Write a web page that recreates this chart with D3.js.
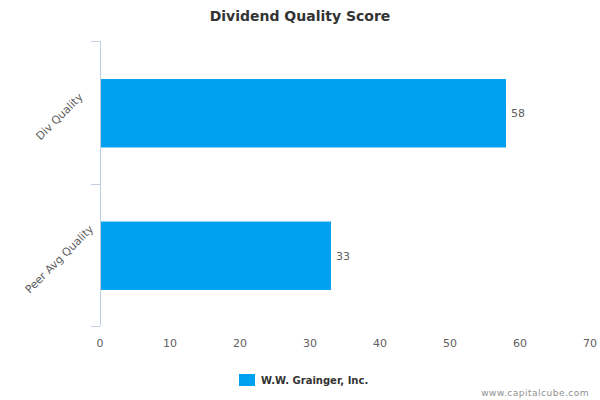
<!DOCTYPE html>
<html><head><meta charset="utf-8">
<script src="https://cdn.jsdelivr.net/npm/d3@7"></script>
<style>body{margin:0;background:#fff;} svg{display:block;font-family:"DejaVu Sans",sans-serif;}</style>
</head><body>
<script>
const categories = ["Div Quality", "Peer Avg Quality"];
const values = [58, 33];
const xTicks = [0, 10, 20, 30, 40, 50, 60, 70];
const seriesName = "W.W. Grainger, Inc.";
const title = "Dividend Quality Score";
const credit = "www.capitalcube.com";

const W = 600, H = 400;
const svg = d3.select("body").append("svg").attr("width", W).attr("height", H);
const plotLeft = 100, plotRight = 590, plotTop = 41, plotBottom = 326;
const x = d3.scaleLinear().domain([0, 70]).range([plotLeft, plotRight]);
const y = d3.scaleBand().domain(categories).range([plotTop + 1, plotBottom + 1]).paddingInner(0.52).paddingOuter(0.26);
const yb = d3.scaleBand().domain(categories).range([plotTop, plotBottom]);

svg.append("text").attr("x", 300).attr("y", 21).attr("text-anchor", "middle")
  .attr("font-size", 14).attr("font-weight", "bold").attr("fill", "#333").text(title);

// x tick labels
svg.append("g").selectAll("text").data(xTicks).join("text")
  .attr("x", d => x(d)).attr("y", 347).attr("text-anchor", "middle")
  .attr("font-size", 11).attr("fill", "#606060").text(d => d);

// y axis line and ticks
svg.append("line").attr("x1", plotLeft + 0.5).attr("x2", plotLeft + 0.5).attr("y1", plotTop).attr("y2", plotBottom)
  .attr("stroke", "#C0D0E0").attr("stroke-width", 1);
const tickYs = categories.map(c => yb(c)).concat([plotBottom]);
svg.append("g").selectAll("line").data(tickYs).join("line")
  .attr("x1", plotLeft - 9).attr("x2", plotLeft).attr("y1", d => Math.round(d) + 0.5).attr("y2", d => Math.round(d) + 0.5)
  .attr("stroke", "#C0D0E0").attr("stroke-width", 1);

// category labels
svg.append("g").selectAll("text").data(categories).join("text")
  .attr("transform", d => `translate(62,${yb(d) + yb.bandwidth() / 2 + 7}) rotate(-45)`)
  .attr("text-anchor", "middle").attr("font-size", 11).attr("fill", "#606060").text(d => d);

// bars
svg.append("g").selectAll("rect").data(values).join("rect")
  .attr("x", plotLeft + 1).attr("y", (d, i) => y(categories[i]))
  .attr("width", d => x(d) - plotLeft - 1).attr("height", y.bandwidth())
  .attr("fill", "#00A0F0");

// value labels
svg.append("g").selectAll("text").data(values).join("text")
  .attr("x", d => x(d) + 5).attr("y", (d, i) => y(categories[i]) + y.bandwidth() / 2 + 4)
  .attr("font-size", 11).attr("fill", "#606060").text(d => d);

// legend
svg.append("rect").attr("x", 239).attr("y", 374).attr("width", 16).attr("height", 12).attr("fill", "#00A0F0");
svg.append("text").attr("x", 261).attr("y", 384).attr("font-size", 10).attr("font-weight", "bold")
  .attr("fill", "#333").text(seriesName);

svg.append("text").attr("x", 589).attr("y", 396).attr("text-anchor", "end")
  .attr("font-size", 9).attr("fill", "#909090").attr("letter-spacing", 0.5).text(credit);
</script>
</body></html>
